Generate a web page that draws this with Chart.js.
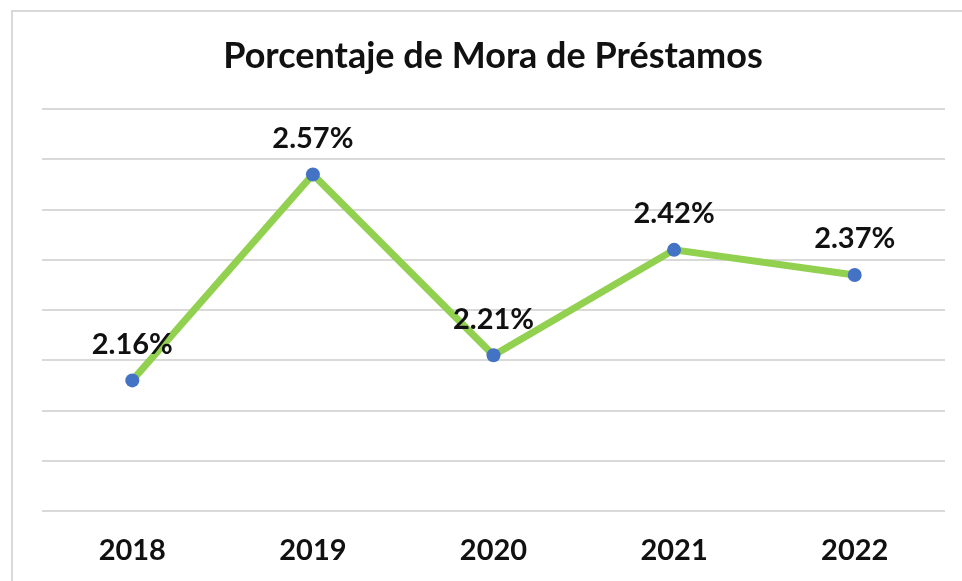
<!DOCTYPE html>
<html>
<head>
<meta charset="utf-8">
<script src="https://cdn.jsdelivr.net/npm/chart.js@4"></script>
<style>
    html, body { margin: 0; padding: 0; background: #fff; overflow: hidden; }
    #wrap { position: relative; width: 962px; height: 581px; }
    #frame {
        position: absolute; left: 11px; top: 10px; width: 1000px; height: 700px;
        border: 2px solid #d9d9d9; box-sizing: border-box;
    }
    canvas { position: absolute; left: 0; top: 0; }
</style>
</head>
<body>
<div id="wrap">
    <div id="frame"></div>
    <canvas id="moraChart" width="962" height="581"></canvas>
</div>
<script>
const years = ['2018', '2019', '2020', '2021', '2022'];
const moraPct = [2.16, 2.57, 2.21, 2.42, 2.37];
const yTicks = [1.9, 2.0, 2.1, 2.2, 2.3, 2.4, 2.5, 2.6, 2.7];

const FONT = 'Lato, "Open Sans", sans-serif';

// draws "x.xx%" above every point
const pointLabels = {
    id: 'pointLabels',
    afterDatasetsDraw(chart) {
        const ctx = chart.ctx;
        const meta = chart.getDatasetMeta(0);
        ctx.save();
        ctx.font = '700 29px ' + FONT;
        ctx.fillStyle = '#111';
        ctx.textAlign = 'center';
        ctx.textBaseline = 'middle';
        meta.data.forEach((pt, i) => {
            ctx.fillText(moraPct[i].toFixed(2) + '%', pt.x, pt.y - 36);
        });
        ctx.restore();
    },
};

new Chart(document.getElementById('moraChart'), {
    type: 'line',
    data: {
        labels: years,
        datasets: [
            {
                label: 'Mora',
                data: moraPct,
                borderColor: '#92d050',
                borderWidth: 7,
                pointRadius: 7,
                pointHoverRadius: 7,
                pointBackgroundColor: '#4472c4',
                pointBorderColor: '#4472c4',
                pointBorderWidth: 0,
                tension: 0,
            },
        ],
    },
    options: {
        responsive: false,
        animation: false,
        layout: {
            padding: { left: 41, right: 17, top: 0, bottom: 0 },
        },
        plugins: {
            legend: { display: false },
            tooltip: { enabled: false },
            title: {
                display: true,
                text: 'Porcentaje de Mora de Préstamos',
                color: '#111',
                font: { family: FONT, size: 36, weight: '700', lineHeight: 1.2 },
                padding: { top: 35, bottom: 31 },
            },
        },
        scales: {
            x: {
                offset: true,
                afterFit: (scale) => { scale.height = 70; },
                grid: { display: false, drawTicks: false },
                border: { display: false },
                ticks: {
                    color: '#111',
                    padding: 22,
                    font: { family: FONT, size: 29, weight: '700', lineHeight: 1.2 },
                },
            },
            y: {
                min: yTicks[0],
                max: yTicks[yTicks.length - 1],
                afterFit: (scale) => { scale.width = 1; },
                afterBuildTicks: (scale) => {
                    scale.ticks = yTicks.map((v) => ({ value: v }));
                },
                ticks: { display: false },
                border: { display: false },
                grid: { color: '#d9d9d9', lineWidth: 2, drawTicks: false },
            },
        },
    },
    plugins: [pointLabels],
});
</script>
</body>
</html>
